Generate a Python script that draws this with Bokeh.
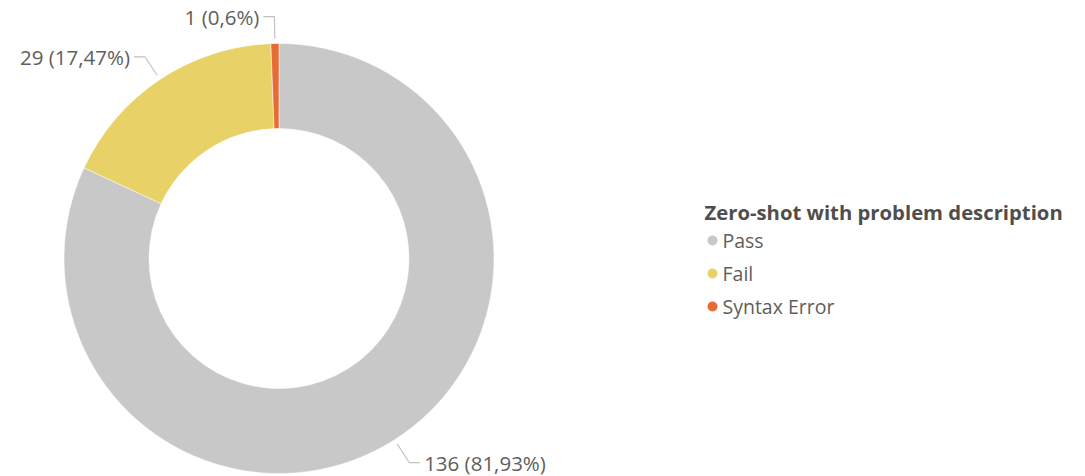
import math
from bokeh.plotting import figure
from bokeh.models import ColumnDataSource
from bokeh.core.properties import value
from bokeh.embed import file_html
from bokeh.resources import INLINE

# ---- data ----
categories = ["Pass", "Fail", "Syntax Error"]
counts = [136, 29, 1]
percent_labels = ["81,93%", "17,47%", "0,6%"]
colors = ["#C8C8C8", "#E8D166", "#E66C37"]
legend_title = "Zero-shot with problem description"

W, H = 1085, 476
FONT = "Open Sans"
TXT = "#605E5C"

p = figure(width=W, height=H, x_range=(0, W), y_range=(0, H),
           output_backend="svg", toolbar_location=None, min_border=0)
p.axis.visible = False
p.grid.visible = False
p.outline_line_color = None
p.background_fill_color = "white"
p.border_fill_color = "white"

def py(y):  # image y -> data y
    return H - y

def px(x):
    return x

cx, cy = px(278.5), py(258)
r_out, r_in = 215, 130

total = sum(counts)
starts, ends, mids = [], [], []
acc = 0.0
for c in counts:
    a0 = math.pi / 2 - 2 * math.pi * acc / total
    acc += c
    a1 = math.pi / 2 - 2 * math.pi * acc / total
    starts.append(a0)
    ends.append(a1)
    mids.append((a0 + a1) / 2)

src = ColumnDataSource(dict(start=starts, end=ends, color=colors))
p.annular_wedge(x=cx, y=cy, inner_radius=r_in, outer_radius=r_out,
                start_angle="start", end_angle="end", direction="clock",
                fill_color="color", line_color="white", line_width=0.5, source=src)

# data labels with leader lines
lx, ly, tx, ty, ta, tt = [], [], [], [], [], []
for c, pl, m in zip(counts, percent_labels, mids):
    x0, y0 = cx + (r_out + 5) * math.cos(m), cy + (r_out + 5) * math.sin(m)
    x1, y1 = cx + 242 * math.cos(m), cy + 242 * math.sin(m)
    d = 1 if math.cos(m) > 0.02 else -1
    x2 = x1 + 11 * d
    lx.append([x0, x1, x2])
    ly.append([y0, y1, y1])
    tx.append(x2 + 4 * d)
    ty.append(y1)
    ta.append("left" if d > 0 else "right")
    tt.append(f"{c} ({pl})")
p.multi_line(xs=lx, ys=ly, line_color="#C3C1BF", line_width=1.2)
p.text(x=tx, y=ty, text=tt, text_align=ta, text_baseline="middle",
       text_font=value(FONT), text_font_size="20.5px", text_color=TXT)

# legend
p.text(x=[px(704)], y=[py(211)], text=[legend_title], text_baseline="middle",
       text_font=value(FONT), text_font_size="20.3px", text_font_style="bold",
       text_color="#504E4C")
leg_y = [py(240), py(273), py(306)]
p.scatter(x=[px(712)] * 3, y=leg_y, size=10, marker="circle",
          fill_color=colors, line_color=None)
p.text(x=[px(722)] * 3, y=leg_y, text=categories, text_baseline="middle",
       text_font=value(FONT), text_font_size="19.5px", text_color=TXT)

open("out.html", "w").write(file_html(p, INLINE))
